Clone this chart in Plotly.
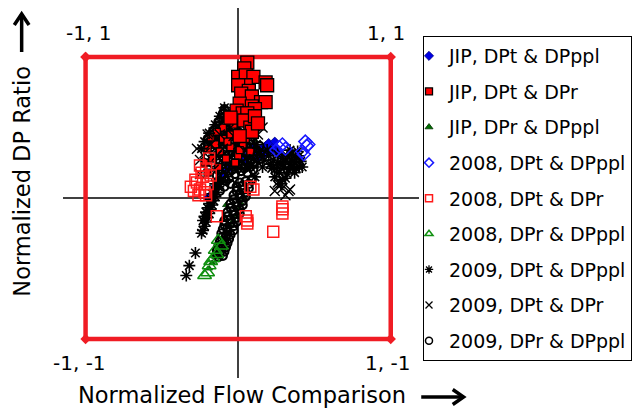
import plotly.graph_objects as go

W, H = 632, 410

# ---------------- data ----------------
frame_x = [-1, 1, 1, -1, -1]
frame_y = [1, 1, -1, -1, 1]

jip_dpt_dppl_x = [-0.20, -0.17, -0.15, -0.12, -0.10, -0.08, -0.05, -0.03, 0.00, 0.03, 0.06, 0.09, 0.12, 0.15,
                  0.18, 0.20, 0.23, 0.26, 0.17, 0.13, 0.21, 0.10, 0.05, -0.07, 0.02, 0.24, 0.28]
jip_dpt_dppl_y = [0.00, 0.03, 0.08, 0.12, 0.16, 0.20, 0.22, 0.25, 0.27, 0.28, 0.30, 0.31, 0.33, 0.35,
                  0.37, 0.39, 0.36, 0.33, 0.31, 0.28, 0.32, 0.36, 0.25, 0.25, 0.33, 0.40, 0.30]

jip_dpt_dpr_upper_x = [0.06, 0.04, 0.00, 0.05, 0.10, 0.18, 0.19, 0.05, 0.00, 0.07, 0.02, 0.09, 0.15, 0.18,
                       0.01, 0.09, -0.01, 0.03, 0.11, 0.06, -0.05, 0.04, 0.08, 0.09, 0.01, 0.11, 0.13]
jip_dpt_dpr_upper_y = [0.96, 0.92, 0.86, 0.87, 0.86, 0.82, 0.80, 0.80, 0.80, 0.76, 0.74, 0.72, 0.68, 0.68,
                       0.67, 0.65, 0.62, 0.60, 0.63, 0.60, 0.57, 0.55, 0.50, 0.47, 0.44, 0.58, 0.53]
jip_dpt_dpr_inner_x = [-0.05, -0.10, -0.15, -0.20, -0.12, -0.05, 0.03, -0.17, -0.08, -0.22, -0.13, 0.00,
                       -0.18, -0.10, 0.05, -0.02, -0.20, 0.08, -0.14, -0.07, 0.01, -0.03]
jip_dpt_dpr_inner_y = [0.45, 0.42, 0.38, 0.35, 0.33, 0.36, 0.38, 0.28, 0.28, 0.25, 0.22, 0.30,
                       0.43, 0.50, 0.42, 0.25, 0.18, 0.33, 0.47, 0.40, 0.34, 0.52]

jip_dpr_dppl_x = [0.06, 0.04, 0.02, 0.01, -0.01, -0.03, -0.05, -0.07, -0.09, -0.11, -0.13, -0.15, -0.17,
                  -0.19, 0.11, -0.08, -0.10]
jip_dpr_dppl_y = [0.04, 0.00, -0.04, -0.08, -0.12, -0.16, -0.20, -0.25, -0.29, -0.33, -0.38, -0.42, -0.46,
                  -0.50, 0.41, -0.05, -0.15]

y2008_dpt_dppl_x = [0.29, 0.25, 0.31, 0.44, 0.45, 0.42, 0.46, 0.43, 0.27]
y2008_dpt_dppl_y = [0.38, 0.34, 0.35, 0.40, 0.37, 0.33, 0.38, 0.31, 0.36]

y2008_dpt_dpr_x = [-0.29, -0.25, -0.27, -0.22, -0.23, -0.21, -0.25, -0.20, -0.14, 0.10, 0.08, 0.05, 0.06,
                   0.06, 0.29, 0.29, 0.29, 0.23, -0.28, -0.21, -0.19, -0.31, -0.24, -0.18, -0.26]
y2008_dpt_dpr_y = [0.05, 0.06, 0.11, 0.04, 0.15, 0.21, 0.23, 0.10, -0.13, 0.06, 0.08, -0.13, -0.18,
                   -0.16, -0.06, -0.11, -0.08, -0.24, 0.13, 0.02, 0.28, 0.08, 0.18, 0.16, 0.02]

y2008_dpr_dppl_x = [-0.22, -0.20, -0.19, -0.165, -0.14, -0.11, -0.18, -0.15, -0.13]
y2008_dpr_dppl_y = [-0.55, -0.53, -0.48, -0.43, -0.40, -0.34, -0.45, -0.37, -0.30]

y2009_dpt_dppl_x = [-0.28, -0.32, -0.34,
                    -0.13, -0.14, -0.15, -0.16, -0.17, -0.18, -0.19, -0.20, -0.21, -0.22, -0.23, -0.24,
                    -0.16, -0.18, -0.20, -0.22, -0.12, -0.15, -0.17, -0.19, -0.21, -0.23,
                    0.20, 0.23, 0.26, 0.29, 0.32, 0.35, 0.38, 0.41, 0.36, 0.33, 0.30, 0.27, 0.24, 0.39,
                    0.34, 0.42, 0.31, 0.28, 0.37, 0.40, 0.17, 0.22, 0.26,
                    0.19, 0.21, 0.25, 0.28, 0.31, 0.34, 0.37, 0.40, 0.35, 0.32, 0.29, 0.38, 0.15, 0.13, 0.16,
                    -0.09, -0.12, -0.15, -0.19, -0.22, -0.24, -0.06, 0.12, 0.14, 0.10, 0.08, 0.11]
y2009_dpt_dppl_y = [-0.39, -0.48, -0.55,
                    0.08, 0.04, 0.01, -0.02, -0.05, -0.08, -0.11, -0.14, -0.17, -0.20, -0.23, -0.25,
                    0.06, -0.01, -0.07, -0.13, 0.12, 0.10, 0.03, -0.04, -0.10, -0.16,
                    0.30, 0.27, 0.25, 0.28, 0.30, 0.27, 0.29, 0.26, 0.22, 0.20, 0.22, 0.18, 0.15, 0.33,
                    0.34, 0.22, 0.14, 0.10, 0.18, 0.30, 0.27, 0.21, 0.31,
                    0.34, 0.24, 0.21, 0.24, 0.26, 0.24, 0.25, 0.22, 0.31, 0.17, 0.13, 0.21, 0.30, 0.25, 0.22,
                    0.64, 0.58, 0.52, 0.46, 0.40, 0.35, 0.55, 0.38, 0.33, 0.28, 0.22, 0.15]

y2009_dpt_dpr_x = [0.16, 0.26, 0.34, 0.31, 0.24, 0.26, 0.33, 0.29, -0.12, -0.18, -0.05, 0.07, -0.22,
                   -0.14, 0.10, -0.08, 0.02, -0.20, -0.25, -0.16, -0.10, 0.00, 0.13, -0.03, -0.27, -0.25]
y2009_dpt_dpr_y = [0.50, 0.11, 0.06, 0.02, 0.05, 0.09, 0.05, 0.07, 0.45, 0.38, 0.50, 0.45, 0.32,
                   0.30, 0.40, 0.60, 0.52, 0.45, 0.27, 0.20, 0.35, 0.38, 0.45, 0.44, 0.35, 0.17]

y2009_dpr_dppl_x = [0.09, 0.05, 0.01, 0.07, 0.03, -0.01, 0.05, 0.01, -0.03, 0.03, -0.01, -0.05, 0.01,
                    -0.03, -0.07, -0.01, -0.05, -0.09, -0.03, -0.07, -0.11, -0.06, -0.09, -0.12, -0.08,
                    -0.11, -0.14, -0.13, -0.10,
                    0.07, 0.03, -0.01, 0.05, 0.01, -0.03, 0.03, -0.01, -0.05, 0.01, -0.03, -0.07, -0.01,
                    -0.05, -0.09, -0.03, -0.07, -0.10, -0.05, -0.08, -0.11, -0.07, -0.10, -0.13, -0.09,
                    -0.12, -0.14,
                    -0.06, -0.02, 0.02, 0.06, 0.10, -0.10, -0.06, -0.02, 0.02, 0.06, 0.10, -0.14, -0.10,
                    -0.06, -0.02, 0.02, 0.06, 0.10, -0.18, -0.14, -0.10, -0.06, -0.02, 0.02, 0.06, 0.10,
                    0.14, -0.20, -0.16, -0.12, -0.08, -0.04, 0.00, 0.04, 0.08, -0.16, -0.12, -0.08, -0.04,
                    0.00, -0.13, -0.09, -0.05, -0.10, -0.07, -0.12, -0.09, -0.13, -0.17, -0.20,
                    -0.08, -0.04, 0.00, 0.04, 0.08, -0.12, -0.08, -0.04, 0.00, 0.04, 0.08, -0.16, -0.12,
                    -0.08, -0.04, 0.00, 0.04, 0.08, 0.12, -0.20, -0.16, -0.12, -0.08, -0.04, 0.00, 0.04,
                    0.08, -0.18, -0.14, -0.10, -0.06, -0.02, 0.02, -0.14, -0.10, -0.06, -0.02, -0.11,
                    -0.07, -0.09, -0.08, -0.05, -0.09, -0.06, -0.12, -0.11, -0.14]
y2009_dpr_dppl_y = [0.13, 0.12, 0.11, 0.07, 0.06, 0.05, 0.01, 0.00, -0.01, -0.05, -0.06, -0.07, -0.11,
                    -0.12, -0.13, -0.17, -0.18, -0.19, -0.23, -0.24, -0.25, -0.29, -0.30, -0.31, -0.35,
                    -0.36, -0.37, -0.42, -0.41,
                    0.10, 0.09, 0.08, 0.04, 0.03, 0.02, -0.02, -0.03, -0.04, -0.08, -0.09, -0.10, -0.14,
                    -0.15, -0.16, -0.20, -0.21, -0.22, -0.26, -0.27, -0.28, -0.32, -0.33, -0.34, -0.38,
                    -0.39, -0.40,
                    0.18, 0.17, 0.19, 0.18, 0.20, 0.24, 0.23, 0.24, 0.23, 0.25, 0.24, 0.30, 0.29,
                    0.31, 0.30, 0.29, 0.31, 0.30, 0.36, 0.37, 0.35, 0.37, 0.36, 0.35, 0.37, 0.36,
                    0.37, 0.42, 0.41, 0.43, 0.42, 0.41, 0.43, 0.42, 0.41, 0.48, 0.47, 0.49, 0.48,
                    0.47, 0.54, 0.53, 0.55, 0.60, 0.59, 0.12, 0.15, 0.20, 0.25, 0.30,
                    0.21, 0.20, 0.21, 0.21, 0.22, 0.27, 0.26, 0.27, 0.26, 0.27, 0.27, 0.33, 0.32,
                    0.33, 0.33, 0.32, 0.33, 0.33, 0.33, 0.39, 0.39, 0.40, 0.39, 0.38, 0.39, 0.39,
                    0.38, 0.45, 0.44, 0.45, 0.45, 0.44, 0.45, 0.51, 0.51, 0.52, 0.50, 0.57,
                    0.56, 0.63, 0.12, 0.10, 0.08, 0.14, 0.05, 0.17, 0.16]

legend_names = ["JIP, DPt & DPppl", "JIP, DPt & DPr", "JIP, DPr & DPppl",
                "2008, DPt & DPppl", "2008, DPt & DPr", "2008, DPr & DPppl",
                "2009, DPt & DPppl", "2009, DPt & DPr", "2009, DPr & DPppl"]

corner_labels = ["-1, 1", "1, 1", "-1, -1", "1, -1"]
x_title = "Normalized Flow Comparison"
y_title = "Normalized DP Ratio"

# ---------------- styles ----------------
RED = "#f01c24"
FONT = "DejaVu Sans"

def pxx(v):
    return v / W

def pxy(v):
    return 1 - v / H

styles = {
    "JIP, DPt & DPppl": dict(symbol="diamond", color="#0000e6", line=dict(color="#000080", width=0.8)),
    "JIP, DPt & DPr": dict(symbol="square", color="#ff0000", line=dict(color="#000000", width=1.3)),
    "JIP, DPr & DPppl": dict(symbol="triangle-up", color="#007000", line=dict(color="#003000", width=0.8)),
    "2008, DPt & DPppl": dict(symbol="diamond-open", color="#1a1aff", line=dict(width=1.5)),
    "2008, DPt & DPr": dict(symbol="square-open", color="#ff1a1a", line=dict(width=1.5)),
    "2008, DPr & DPppl": dict(symbol="triangle-up-open", color="#109010", line=dict(width=1.5)),
    "2009, DPt & DPppl": dict(symbol="asterisk-open", color="#000000", line=dict(color="#000000", width=1.6)),
    "2009, DPt & DPr": dict(symbol="x-thin-open", color="#000000", line=dict(color="#000000", width=1.4)),
    "2009, DPr & DPppl": dict(symbol="circle-open", color="#000000", line=dict(color="#000000", width=2.2)),
}
legend_line_w = {"2009, DPt & DPppl": 1.3, "2009, DPt & DPr": 1.3, "2009, DPr & DPppl": 1.5}

fig = go.Figure()

def add(x, y, name, size):
    st = dict(styles[name])
    fig.add_trace(go.Scatter(x=x, y=y, mode="markers", showlegend=False, hoverinfo="skip",
                             marker=dict(size=size, **st)))

# frame
fig.add_trace(go.Scatter(x=frame_x, y=frame_y, mode="lines+markers", showlegend=False, hoverinfo="skip",
                         line=dict(color=RED, width=4.5),
                         marker=dict(symbol="diamond", size=8, color=RED)))

# draw order
add(jip_dpt_dppl_x, jip_dpt_dppl_y, "JIP, DPt & DPppl", 7)
add(jip_dpr_dppl_x, jip_dpr_dppl_y, "JIP, DPr & DPppl", 6)
add(y2009_dpr_dppl_x, y2009_dpr_dppl_y, "2009, DPr & DPppl", 8)
add(jip_dpt_dpr_inner_x, jip_dpt_dpr_inner_y, "JIP, DPt & DPr", 7)
add(y2009_dpt_dppl_x, y2009_dpt_dppl_y, "2009, DPt & DPppl", 10)
add(y2009_dpt_dpr_x, y2009_dpt_dpr_y, "2009, DPt & DPr", 10)
add(jip_dpt_dpr_upper_x, jip_dpt_dpr_upper_y, "JIP, DPt & DPr", 13)
add(y2008_dpr_dppl_x, y2008_dpr_dppl_y, "2008, DPr & DPppl", 12)
add(y2008_dpt_dpr_x, y2008_dpt_dpr_y, "2008, DPt & DPr", 11)
add(y2008_dpt_dppl_x, y2008_dpt_dppl_y, "2008, DPt & DPppl", 10)

# legend entries
for i, name in enumerate(legend_names):
    st = dict(styles[name])
    if name in legend_line_w:
        st["line"] = dict(color="#000000", width=legend_line_w[name])
    fig.add_trace(go.Scatter(x=[None], y=[None], mode="markers", name=name, legendgroup=f"g{i}",
                             marker=dict(size=7, **st)))

# corner labels
corner_pos = [(90, 33), (392, 33), (81, 363), (394, 363)]
ann = []
for txt, (cx, cy) in zip(corner_labels, corner_pos):
    ann.append(dict(text=txt, x=pxx(cx), y=pxy(cy), xref="paper", yref="paper", showarrow=False,
                    xanchor="center", yanchor="middle", font=dict(family=FONT, size=20, color="#000")))
ann.append(dict(text=x_title, x=pxx(246), y=pxy(395), xref="paper", yref="paper", showarrow=False,
                xanchor="center", yanchor="middle", font=dict(family=FONT, size=22.5, color="#000")))
ann.append(dict(text=y_title, x=pxx(22), y=pxy(181), xref="paper", yref="paper", showarrow=False,
                textangle=-90, xanchor="center", yanchor="middle",
                font=dict(family=FONT, size=22.5, color="#000")))

def path(points):
    return "M " + " L ".join(f"{pxx(a):.5f},{pxy(b):.5f}" for a, b in points)

arrow_line = dict(color="#000", width=3.5)
shapes = [
    dict(type="path", xref="paper", yref="paper", path=path([(22, 52), (22, 14)]), line=arrow_line),
    dict(type="path", xref="paper", yref="paper", path=path([(14.5, 25), (22, 14), (29.5, 25)]), line=arrow_line),
    dict(type="path", xref="paper", yref="paper", path=path([(428, 397), (471, 397)]), line=arrow_line),
    dict(type="path", xref="paper", yref="paper", path=path([(460, 389.5), (471, 397), (460, 404.5)]), line=arrow_line),
]

fig.update_layout(
    width=W, height=H, margin=dict(l=0, r=0, t=0, b=0),
    paper_bgcolor="white", plot_bgcolor="white",
    hovermode=False,
    xaxis=dict(domain=[pxx(64), pxx(426)], range=[-1.148, 1.187], showgrid=False, showticklabels=False,
               ticks="", zeroline=True, zerolinecolor="#404040", zerolinewidth=1.5, showline=False,
               fixedrange=True),
    yaxis=dict(domain=[pxy(378), pxy(8)], range=[-1.277, 1.348], showgrid=False, showticklabels=False,
               ticks="", zeroline=True, zerolinecolor="#404040", zerolinewidth=1.5, showline=False,
               fixedrange=True),
    legend=dict(x=pxx(430), y=pxy(36), xanchor="left", yanchor="top", bgcolor="white",
                bordercolor="#000", borderwidth=1, font=dict(family=FONT, size=19, color="#000"),
                tracegroupgap=7.9, indentation=-15),
    annotations=ann,
    shapes=shapes,
)

fig.write_html("out.html", config={"displayModeBar": False})
